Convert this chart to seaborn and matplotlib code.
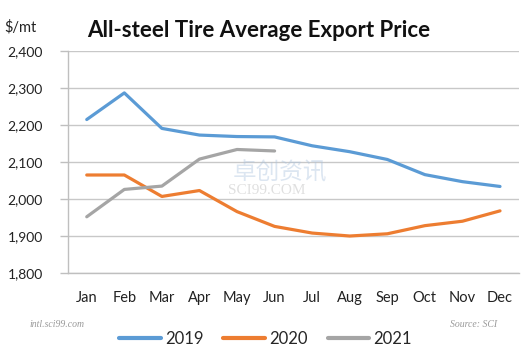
import numpy as np
import pandas as pd
import matplotlib
matplotlib.use('Agg')
import matplotlib.pyplot as plt
import seaborn as sns
from matplotlib.lines import Line2D

# data
months = ['Jan', 'Feb', 'Mar', 'Apr', 'May', 'Jun', 'Jul', 'Aug', 'Sep', 'Oct', 'Nov', 'Dec']
price_2019 = [2215, 2287, 2191, 2173, 2169, 2168, 2144, 2128, 2107, 2066, 2047, 2034]
price_2020 = [2065, 2065, 2007, 2023, 1966, 1926, 1908, 1900, 1906, 1928, 1940, 1968]
price_2021 = [1952, 2026, 2035, 2108, 2134, 2130, np.nan, np.nan, np.nan, np.nan, np.nan, np.nan]
years = ['2019', '2020', '2021']
colors = ['#5B9BD5', '#ED7D31', '#A5A5A5']

rows = []
for yr, vals in zip(years, [price_2019, price_2020, price_2021]):
    for i, v in enumerate(vals):
        rows.append({'month': i, 'price': v, 'year': yr})
df = pd.DataFrame(rows).dropna()

sns.set_style('white')
plt.rcParams['font.family'] = ['Lato', 'DejaVu Sans']

fig = plt.figure(figsize=(5.31, 3.55), dpi=100)
ax = fig.add_axes([0.128, 0.231, 0.849, 0.625])

sns.lineplot(data=df, x='month', y='price', hue='year', palette=colors,
             linewidth=2.3, legend=False, ax=ax, sort=True)

ax.set_xlim(-0.5, 11.5)
ax.set_ylim(1800, 2400)
ax.set_yticks(range(1800, 2401, 100))
ax.set_yticklabels([f'{v:,}' for v in range(1800, 2401, 100)], fontsize=10, color='#222222')
ax.set_xticks(range(12))
ax.set_xticklabels(months, fontsize=10.5, color='#222222')
ax.set_xticks(np.arange(-0.5, 12, 1), minor=True)
ax.tick_params(axis='x', which='major', length=0, pad=13)
ax.tick_params(axis='x', which='minor', length=5, color='#BFBFBF', width=1, direction='out')
ax.tick_params(axis='y', length=6, color='#BFBFBF', width=1, direction='out', pad=12, left=True)
ax.grid(axis='y', color='#C8C8C8', linewidth=1)
ax.grid(axis='x', visible=False)
ax.set_xlabel('')
ax.set_ylabel('')
for s in ['top', 'right']:
    ax.spines[s].set_visible(False)
for s in ['left', 'bottom']:
    ax.spines[s].set_color('#BFBFBF')
    ax.spines[s].set_linewidth(1)

# watermark
ax.text(0.47, 0.45, '卓创资讯', transform=ax.transAxes, ha='center', va='center',
        fontsize=17, color='#A9C1DD', alpha=0.4, family=['Noto Sans CJK SC', 'DejaVu Sans'])
ax.text(0.44, 0.374, 'SCI99.COM', transform=ax.transAxes, ha='center', va='center',
        fontsize=11, color='#C0C0C0', alpha=0.5, family='Liberation Serif')

fig.text(0.487, 0.915, 'All-steel Tire Average Export Price', ha='center', va='center',
         fontsize=16, fontweight='bold', color='#111111')
fig.text(0.008, 0.922, '$/mt', ha='left', va='center', fontsize=10.5, color='#222222')
fig.text(0.056, 0.085, 'intl.sci99.com', ha='left', va='center', fontsize=7,
         style='italic', color='#999999', family='Liberation Serif')
fig.text(0.936, 0.085, 'Source: SCI', ha='right', va='center', fontsize=7,
         style='italic', color='#999999', family='Liberation Serif')

handles = [Line2D([0], [0], color=c, linewidth=3) for c in colors]
fig.legend(handles, years, loc='center', bbox_to_anchor=(0.5, 0.045), ncol=3,
           frameon=False, fontsize=12, handlelength=2.5, handletextpad=0.25,
           columnspacing=1.2)

fig.savefig('out.png', dpi=100)
